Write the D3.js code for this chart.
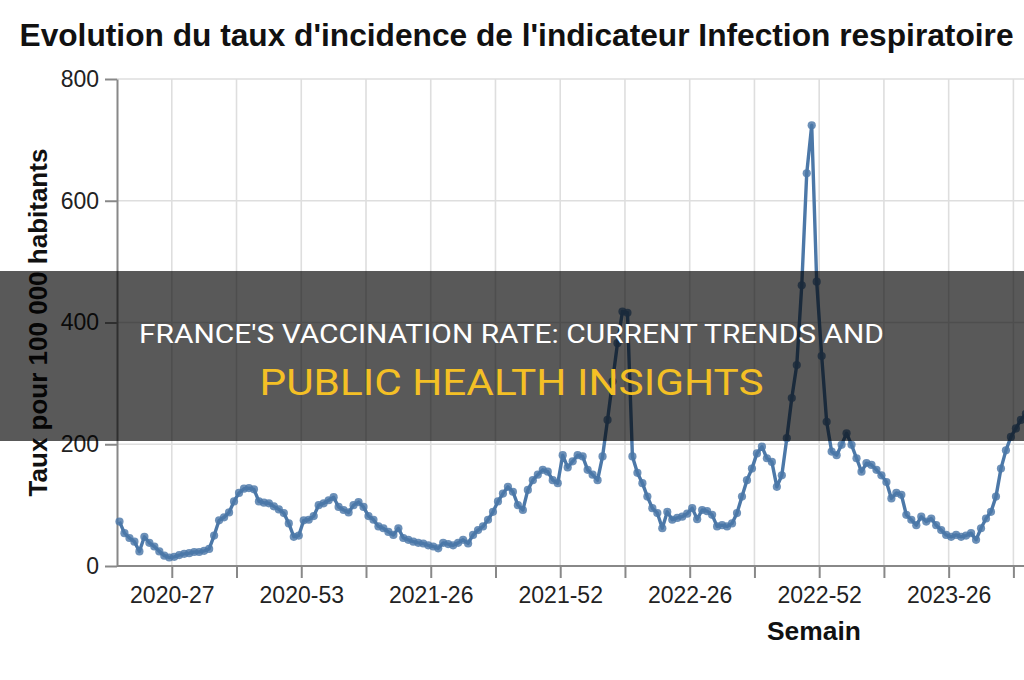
<!DOCTYPE html>
<html>
<head>
<meta charset="utf-8">
<script src="https://cdn.jsdelivr.net/npm/d3@7"></script>
<style>
  html, body { margin: 0; padding: 0; background: #fff; }
  svg { display: block; font-family: "Liberation Sans", Arial, sans-serif; }
</style>
</head>
<body>
<svg id="chart" width="1024" height="680"></svg>
<script>
// weekly categories start at 2020-16
const weekYears = [2020, 2021, 2022, 2023];
const weeksInYear = [53, 52, 52, 52];
const firstWeek = 16;

// incidence rate per 100 000 inhabitants, one value per week
const incidence = [
    73, 54, 46, 40, 24, 48, 38, 32, 24, 17,
    14, 15, 18, 20, 21, 23, 23, 25, 28, 50,
    75, 80, 88, 106, 120, 127, 128, 126, 106, 104,
    103, 98, 93, 87, 70, 48, 50, 75, 76, 82,
    100, 103, 108, 113, 97, 92, 88, 100, 105, 97,
    82, 76, 65, 62, 56, 51, 62, 46, 43, 40,
    38, 37, 34, 32, 29, 38, 36, 34, 38, 43,
    37, 51, 59, 65, 76, 89, 106, 119, 130, 122,
    100, 92, 125, 141, 150, 158, 155, 141, 136, 182,
    162, 172, 182, 180, 158, 150, 141, 180, 240, 303,
    366, 418, 416, 180, 153, 136, 114, 95, 87, 62,
    89, 76, 79, 81, 86, 95, 77, 92, 90, 84,
    65, 67, 65, 70, 87, 114, 141, 160, 185, 196,
    177, 171, 130, 149, 210, 276, 330, 461, 645, 724,
    467, 345, 237, 188, 182, 199, 218, 199, 177, 155,
    169, 166, 158, 149, 138, 111, 120, 117, 84, 76,
    67, 81, 73, 78, 67, 59, 51, 48, 51, 48,
    50, 54, 43, 62, 78, 89, 114, 160, 190, 212,
    226, 240, 250
];

const labelledWeeks = ["2020-27", "2020-53", "2021-26", "2021-52", "2022-26", "2022-52", "2023-26"];
const minorWeeks = ["2020-40", "2021-13", "2021-39", "2022-13", "2022-39", "2023-13", "2023-39"];
const yTicks = [0, 200, 400, 600, 800];

const titleText = "Evolution du taux d'incidence de l'indicateur Infection respiratoire";
const yTitle = "Taux pour 100 000 habitants";
const xTitle = "Semain";
const bannerLine1 = "FRANCE'S VACCINATION RATE: CURRENT TRENDS AND";
const bannerLine2 = "PUBLIC HEALTH INSIGHTS";

const weeks = [];
weekYears.forEach((year, i) => {
    for (let w = i === 0 ? firstWeek : 1; w <= weeksInYear[i]; w++) {
        weeks.push(`${year}-${String(w).padStart(2, "0")}`);
    }
});
const points = incidence.map((value, i) => ({ week: weeks[i], value }));
const tickWeeks = points.map(d => d.week).filter(w => labelledWeeks.includes(w) || minorWeeks.includes(w));

const W = 1024, H = 680;
const plot = { left: 117, top: 79, bottom: 566, step: 4.98 };
const axisColor = "#888";
const gridColor = "#dedede";
const lineColor = "#4c78a8";

const svg = d3.select("#chart");
svg.append("rect").attr("width", W).attr("height", H).attr("fill", "#fff");

const x = d3.scaleBand()
    .domain(points.map(d => d.week))
    .range([plot.left, plot.left + plot.step * points.length])
    .padding(0);
const y = d3.scaleLinear().domain([0, 800]).range([plot.bottom, plot.top]);

// ticks and grid sit on the band start, like the source chart
const xTick = d3.scalePoint()
    .domain(x.domain())
    .range([x.range()[0], x.range()[1] - x.step()]);

// grid
svg.append("g")
    .selectAll("line")
    .data(tickWeeks)
    .join("line")
    .attr("x1", d => xTick(d))
    .attr("x2", d => xTick(d))
    .attr("y1", y(800))
    .attr("y2", y(0))
    .attr("stroke", gridColor)
    .attr("stroke-width", 1.6);

svg.append("g")
    .selectAll("line")
    .data(yTicks)
    .join("line")
    .attr("x1", plot.left)
    .attr("x2", W)
    .attr("y1", d => y(d))
    .attr("y2", d => y(d))
    .attr("stroke", gridColor)
    .attr("stroke-width", 1.6);

// axes
const yAxis = svg.append("g")
    .attr("transform", `translate(${plot.left},0)`)
    .call(d3.axisLeft(y).tickValues(yTicks).tickSize(12).tickPadding(6).tickSizeOuter(0));
yAxis.attr("font-size", 23).attr("font-family", "Liberation Sans, Arial, sans-serif");
yAxis.select(".domain").attr("stroke", axisColor).attr("stroke-width", 2);
yAxis.selectAll(".tick line").attr("stroke", axisColor).attr("stroke-width", 2);
yAxis.selectAll(".tick text").attr("fill", "#222");

const xAxis = svg.append("g")
    .attr("transform", `translate(0,${plot.bottom})`)
    .call(d3.axisBottom(xTick)
        .tickValues(tickWeeks)
        .tickFormat(d => labelledWeeks.includes(d) ? d : "")
        .tickSize(12)
        .tickPadding(9)
        .tickSizeOuter(0));
xAxis.attr("font-size", 23).attr("font-family", "Liberation Sans, Arial, sans-serif");
xAxis.select(".domain").remove();
xAxis.selectAll(".tick line").attr("stroke", axisColor).attr("stroke-width", 2);
xAxis.selectAll(".tick text").attr("fill", "#222");
xAxis.append("line")
    .attr("x1", plot.left)
    .attr("x2", x.range()[1])
    .attr("stroke", axisColor)
    .attr("stroke-width", 2);

// series
const line = d3.line()
    .x(d => x(d.week) + x.bandwidth() / 2)
    .y(d => y(d.value));

svg.append("path")
    .datum(points)
    .attr("fill", "none")
    .attr("stroke", lineColor)
    .attr("stroke-width", 3.4)
    .attr("stroke-linejoin", "round")
    .attr("d", line);

svg.append("g")
    .selectAll("circle")
    .data(points)
    .join("circle")
    .attr("cx", d => x(d.week) + x.bandwidth() / 2)
    .attr("cy", d => y(d.value))
    .attr("r", 4.1)
    .attr("fill", lineColor)
    .attr("fill-opacity", 0.82);

// titles
svg.append("text")
    .attr("x", 19.5)
    .attr("y", 46)
    .attr("font-size", 31.7)
    .attr("font-weight", "bold")
    .attr("fill", "#111")
    .text(titleText);

svg.append("text")
    .attr("transform", `translate(47,${(plot.top + plot.bottom) / 2}) rotate(-90)`)
    .attr("text-anchor", "middle")
    .attr("font-size", 26)
    .attr("font-weight", "bold")
    .attr("fill", "#111")
    .text(yTitle);

svg.append("text")
    .attr("x", 767)
    .attr("y", 639.5)
    .attr("font-size", 26.4)
    .attr("font-weight", "bold")
    .attr("fill", "#111")
    .text(xTitle);

// dark banner with headline on top of the chart
const banner = svg.append("g");
banner.append("rect")
    .attr("x", 0)
    .attr("y", 271)
    .attr("width", W)
    .attr("height", 170)
    .attr("fill", "#000")
    .attr("fill-opacity", 0.65);

banner.append("text")
    .attr("x", 511.5)
    .attr("y", 342.7)
    .attr("text-anchor", "middle")
    .attr("font-family", "Roboto, 'Open Sans', sans-serif")
    .attr("font-size", 25)
    .attr("fill", "#fff")
    .attr("textLength", 745)
    .attr("lengthAdjust", "spacingAndGlyphs")
    .text(bannerLine1);

banner.append("text")
    .attr("x", 511.5)
    .attr("y", 395)
    .attr("text-anchor", "middle")
    .attr("font-family", "Roboto, 'Open Sans', sans-serif")
    .attr("font-size", 37)
    .attr("fill", "#f4c025")
    .attr("textLength", 504)
    .attr("lengthAdjust", "spacingAndGlyphs")
    .text(bannerLine2);
</script>
</body>
</html>
